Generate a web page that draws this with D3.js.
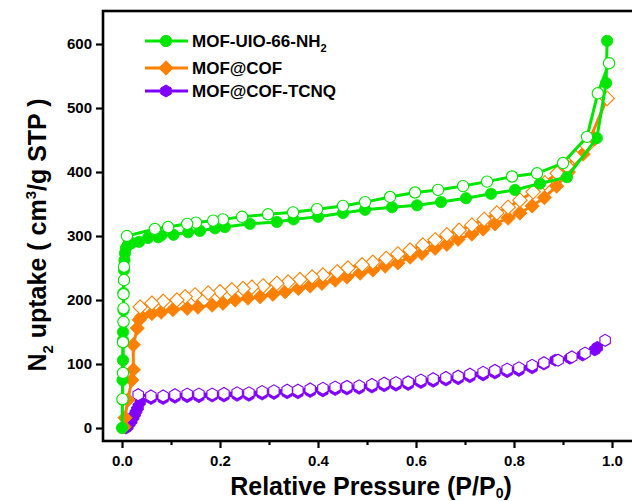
<!DOCTYPE html>
<html><head><meta charset="utf-8">
<script src="https://cdn.jsdelivr.net/npm/d3@7"></script>
<style>body{margin:0;background:#fff}svg{display:block}text{font-family:"Liberation Sans",Arial,sans-serif;font-weight:bold;fill:#000}</style>
</head><body><svg id="c" width="632" height="501"></svg>
<script>
// ---- data ----
const xTicks = [0.0, 0.2, 0.4, 0.6, 0.8, 1.0];
const xMinor = [0.1, 0.3, 0.5, 0.7, 0.9];
const yTicks = [0, 100, 200, 300, 400, 500, 600];
const seriesNames = ["MOF-UIO-66-NH2", "MOF@COF", "MOF@COF-TCNQ"];

const uioAdsX = [0.000,0.001,0.001,0.002,0.002,0.002,0.003,0.003,0.004,0.005,0.006,0.008,0.012,0.020,0.035,0.053,0.074,0.080,0.105,0.135,0.159,0.190,0.210,0.261,0.316,0.350,0.400,0.451,0.496,0.551,0.602,0.651,0.702,0.753,0.802,0.853,0.908,0.969,0.988,0.990];
const uioAdsY = [0,44,75,106,137,150,184,211,247,262,273,281,286,289,291,297,298,301,302,306,308,312,314,319,322,326,330,336,341,345,348,353,359,366,372,382,392,453,539,605];
const uioDesX = [0.994,0.971,0.949,0.900,0.847,0.796,0.745,0.696,0.645,0.598,0.547,0.496,0.451,0.398,0.349,0.298,0.245,0.206,0.186,0.151,0.133,0.094,0.067,0.010,0.004,0.004,0.003,0.003,0.003,0.002,0.002,0.001];
const uioDesY = [570,523,455,414,398,393,385,378,372,368,361,353,347,342,337,334,330,326,324,321,319,314,311,300,252,231,209,187,166,134,86,45];

const cofAdsX = [0.004,0.006,0.012,0.020,0.023,0.023,0.031,0.035,0.040,0.061,0.080,0.104,0.133,0.155,0.184,0.206,0.231,0.257,0.282,0.308,0.333,0.360,0.384,0.408,0.435,0.459,0.486,0.512,0.537,0.563,0.588,0.612,0.639,0.663,0.686,0.714,0.737,0.761,0.788,0.812,0.837,0.862,0.887,0.911,0.941,0.965];
const cofAdsY = [2,16,44,75,91,130,156,169,174,179,181,185,187,189,192,195,200,203,205,209,213,218,222,226,231,236,242,247,253,258,267,273,281,287,295,303,311,319,328,336,347,360,378,400,428,452];
const cofDesX = [0.990,0.949,0.924,0.908,0.888,0.863,0.839,0.812,0.788,0.765,0.739,0.714,0.688,0.663,0.639,0.614,0.588,0.563,0.539,0.512,0.490,0.461,0.439,0.410,0.388,0.363,0.339,0.316,0.288,0.265,0.247,0.224,0.200,0.176,0.149,0.129,0.112,0.084,0.061,0.037];
const cofDesY = [515,441,424,409,398,383,369,356,345,336,326,317,309,302,294,286,278,272,265,259,255,250,244,239,236,232,228,226,222,220,218,216,213,211,208,205,200,198,195,189];

const tcnqAdsX = [0.008,0.012,0.016,0.020,0.024,0.027,0.030,0.033,0.037,0.059,0.084,0.108,0.133,0.157,0.184,0.208,0.235,0.259,0.286,0.310,0.337,0.359,0.384,0.410,0.435,0.459,0.484,0.510,0.535,0.559,0.584,0.610,0.635,0.661,0.686,0.710,0.737,0.761,0.786,0.810,0.837,0.861,0.884,0.914,0.940,0.965,0.970];
const tcnqAdsY = [0,3,8,12,18,23,28,33,41,46,46,48,49,49,50,50,51,51,53,54,55,55,57,58,60,61,62,64,66,67,68,71,73,75,77,80,83,86,88,90,94,100,106,109,114,122,126];
const tcnqDesX = [0.986,0.945,0.918,0.890,0.861,0.837,0.810,0.786,0.761,0.737,0.710,0.686,0.661,0.635,0.610,0.584,0.559,0.535,0.510,0.484,0.459,0.435,0.410,0.384,0.359,0.337,0.310,0.286,0.259,0.235,0.208,0.184,0.157,0.133,0.108,0.084,0.059,0.033];
const tcnqDesY = [137,117,111,106,102,98,94,92,90,87,84,81,79,77,75,72,71,70,68,66,65,64,62,61,59,59,58,57,55,55,54,53,53,53,52,50,50,52];

const colors = ["#00e600", "#ff8000", "#8000ff"];

// ---- chart ----
const svg = d3.select("#c");
const L = 103, R = 634, T = 11, B = 441;
const x = d3.scaleLinear().domain([-0.0388, 1.0449]).range([L, R]);
const y = d3.scaleLinear().domain([-20.3, 651.6]).range([B, T]);

const hexPath = r => {
  const pts = d3.range(6).map(i => { const a = Math.PI/2 + i*Math.PI/3; return [r*Math.cos(a), r*Math.sin(a)]; });
  return "M" + pts.map(p => p.join(",")).join("L") + "Z";
};
const shapeFns = [
  () => d3.symbol().type(d3.symbolCircle).size(100)(),
  () => "M0,-7.2L7.2,0L0,7.2L-7.2,0Z",
  () => hexPath(6)
];

const zip = (a, b) => a.map((v, i) => [v, b[i]]);
const series = [
  {c: 0, ads: zip(uioAdsX, uioAdsY), des: zip(uioDesX, uioDesY)},
  {c: 1, ads: zip(cofAdsX, cofAdsY), des: zip(cofDesX, cofDesY)},
  {c: 2, ads: zip(tcnqAdsX, tcnqAdsY), des: zip(tcnqDesX, tcnqDesY)}
];

const line = d3.line().x(d => x(d[0])).y(d => y(d[1]));
const plot = svg.append("g");
[2, 1, 0].forEach(si => {
  const s = series[si], col = colors[s.c];
  plot.append("path").attr("d", line(s.ads)).attr("fill", "none").attr("stroke", col).attr("stroke-width", 3);
  plot.append("path").attr("d", line(s.des)).attr("fill", "none").attr("stroke", col).attr("stroke-width", 3);
  plot.selectAll(null).data(s.ads).enter().append("path")
    .attr("d", shapeFns[s.c]()).attr("transform", d => `translate(${x(d[0])},${y(d[1])})`)
    .attr("fill", col).attr("stroke", col).attr("stroke-width", 0.8);
  plot.selectAll(null).data(s.des).enter().append("path")
    .attr("d", shapeFns[s.c]()).attr("transform", d => `translate(${x(d[0])},${y(d[1])})`)
    .attr("fill", "#fff").attr("stroke", col).attr("stroke-width", 1.1);
});

// frame
svg.append("rect").attr("x", L).attr("y", T).attr("width", R - L).attr("height", B - T)
  .attr("fill", "none").attr("stroke", "#000").attr("stroke-width", 2.6);

// axes
const xAxis = svg.append("g").attr("transform", `translate(0,${B})`)
  .call(d3.axisBottom(x).tickValues(xTicks).tickFormat(d3.format(".1f")).tickSize(7).tickPadding(7));
const xMin = svg.append("g").attr("transform", `translate(0,${B})`)
  .call(d3.axisBottom(x).tickValues(xMinor).tickFormat("").tickSize(4));
const yAxis = svg.append("g").attr("transform", `translate(${L},0)`)
  .call(d3.axisLeft(y).tickValues(yTicks).tickFormat(d3.format("d")).tickSize(7).tickPadding(4));
[xAxis, xMin, yAxis].forEach(g => {
  g.select(".domain").remove();
  g.selectAll(".tick line").attr("stroke", "#000").attr("stroke-width", 2.2);
  g.selectAll(".tick text").style("font-size", "15px").style("font-family", "Liberation Sans, Arial, sans-serif").style("font-weight", "bold").attr("fill", "#000");
});

// axis titles
const xt = svg.append("text").attr("x", 371).attr("y", 495).attr("text-anchor", "middle").style("font-size", "25px");
xt.append("tspan").text("Relative Pressure (P/P");
xt.append("tspan").text("0").style("font-size", "14px").attr("dy", 3);
xt.append("tspan").text(")").attr("dy", -3);

const yt = svg.append("text").attr("transform", "translate(46,235) rotate(-90)").attr("text-anchor", "middle").style("font-size", "25px");
yt.append("tspan").text("N");
yt.append("tspan").text("2").style("font-size", "15px").attr("dy", 7);
yt.append("tspan").text(" uptake ( cm").attr("dy", -7);
yt.append("tspan").text("3").style("font-size", "15px").attr("dy", -10);
yt.append("tspan").text("/g STP )").attr("dy", 10);

// legend
const legY = [41, 68, 91];
seriesNames.forEach((name, i) => {
  const g = svg.append("g");
  g.append("line").attr("x1", 145).attr("x2", 188).attr("y1", legY[i]).attr("y2", legY[i]).attr("stroke", colors[i]).attr("stroke-width", 3);
  g.append("path").attr("d", shapeFns[i]()).attr("transform", `translate(166,${legY[i]})`).attr("fill", colors[i]).attr("stroke", colors[i]);
  const t = g.append("text").attr("x", 192).attr("y", legY[i] + 6).style("font-size", "17px");
  if (i === 0) {
    t.append("tspan").text("MOF-UIO-66-NH");
    t.append("tspan").text("2").style("font-size", "11px").attr("dy", 5);
  } else t.text(name);
});
</script></body></html>
